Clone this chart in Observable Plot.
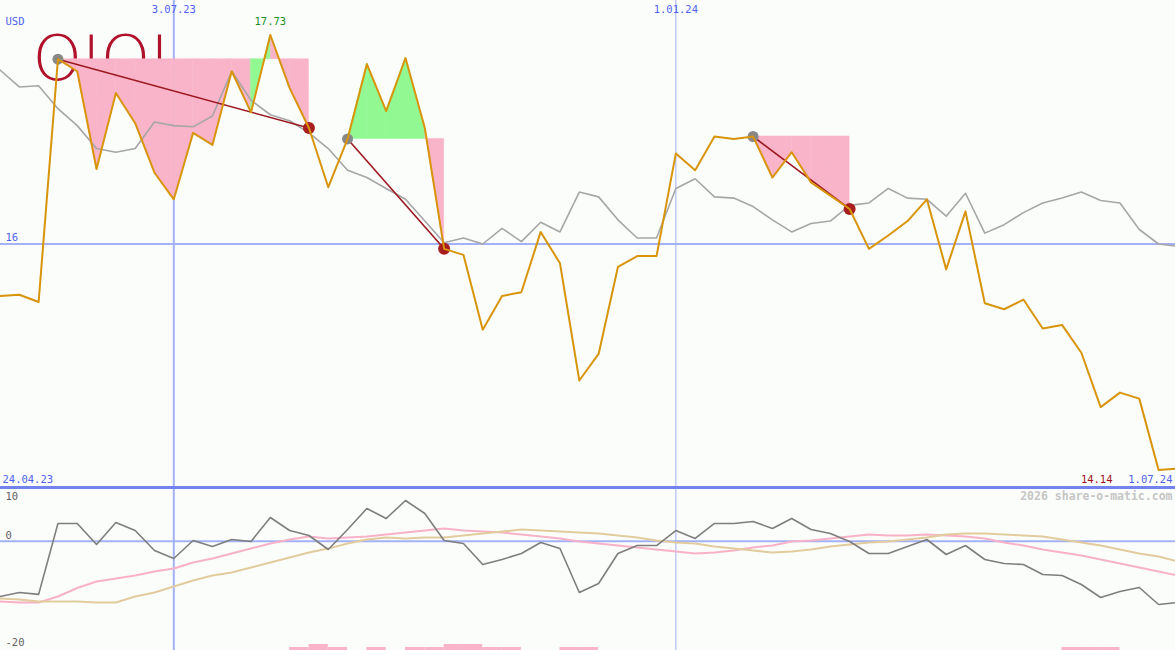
<!DOCTYPE html>
<html><head><meta charset="utf-8">
<script src="https://cdn.jsdelivr.net/npm/d3@7"></script>
<script src="https://cdn.jsdelivr.net/npm/@observablehq/plot@0.6"></script>
<style>
html,body{margin:0;padding:0;background:#fbfdfb;}
#chart{position:relative;width:1175px;height:650px;overflow:hidden;background:#fbfdfb;}
#chart svg{display:block;}
#sep{height:3px;background:#7282ee;}
#vol{position:absolute;left:0;bottom:0;pointer-events:none;}
</style></head><body><div id="chart"></div>
<script>
// ---- data (weekly, starting 24.04.23) ----
const startDate = [2023, 3, 24];
const price = [15.57,15.57,15.58,15.52,17.53,17.43,16.62,17.25,17.00,16.59,
  16.37,16.92,16.82,17.43,17.09,17.73,17.29,16.96,16.47,16.87,
  17.49,17.10,17.54,16.96,15.96,15.91,15.29,15.57,15.60,16.10,
  15.84,14.87,15.09,15.81,15.90,15.90,16.75,16.61,16.89,16.87,
  16.89,16.55,16.76,16.51,16.40,16.29,15.96,16.07,16.19,16.37,
  15.79,16.27,15.51,15.46,15.54,15.30,15.33,15.10,14.65,14.77,
  14.72,14.13,14.14];
const benchmark = [17.47,17.44,17.30,17.31,17.12,16.98,16.79,16.76,16.79,17.01,
  16.98,16.97,17.06,17.43,17.19,17.07,17.02,16.92,16.79,16.61,
  16.55,16.46,16.37,16.19,16.01,16.05,16.00,16.13,16.02,16.18,
  16.10,16.43,16.39,16.20,16.05,16.05,16.46,16.54,16.39,16.38,
  16.31,16.20,16.10,16.17,16.19,16.32,16.34,16.46,16.38,16.37,
  16.23,16.42,16.09,16.16,16.26,16.34,16.38,16.43,16.36,16.34,
  16.12,16.00,15.98];
const momentum = [-10.4,-10.4,-9.64,-10.0,3.33,3.33,-0.62,3.52,2.01,-1.75,
  -3.25,0.13,-1.0,0.32,-0.06,4.45,2.01,1.07,-1.56,2.20,
  6.15,4.27,7.65,5.21,0.13,-0.43,-4.38,-3.44,-2.31,-0.24,
  -1.37,-9.64,-7.95,-2.31,-0.81,-0.81,2.01,0.51,3.33,3.33,
  3.70,2.39,4.27,2.20,1.45,-0.06,-2.31,-2.31,-1.0,0.32,
  -2.50,-0.81,-3.44,-4.19,-4.38,-6.26,-6.45,-8.14,-10.58,-9.45,
  -8.70,-11.90,-11.52];
const signalPink = [-11.15,-11.33,-11.52,-11.52,-10.4,-8.8,-7.58,-7.01,-6.45,-5.70,
  -5.14,-4.01,-3.25,-2.31,-1.37,-0.43,0.32,0.88,0.51,0.69,
  0.88,1.26,1.63,2.01,2.39,2.01,1.82,1.63,1.26,0.88,
  0.51,-0.06,-0.43,-0.81,-1.18,-1.56,-1.94,-2.31,-2.12,-1.75,
  -1.18,-0.81,-0.06,0.13,0.51,0.88,1.26,1.07,1.07,1.26,
  1.07,0.88,0.51,-0.24,-0.81,-1.56,-2.12,-2.69,-3.44,-4.19,
  -4.95,-5.70,-6.45];
const signalTan = [-10.58,-10.77,-10.96,-11.33,-11.33,-11.33,-11.52,-11.52,-10.4,-9.64,
  -8.52,-7.39,-6.45,-5.89,-4.95,-4.01,-3.08,-2.14,-1.39,-0.43,
  0.32,0.69,0.51,0.69,0.69,1.07,1.45,1.82,2.20,2.01,
  1.82,1.63,1.45,1.07,0.69,0.13,-0.24,-0.43,-0.99,-1.37,
  -1.75,-2.12,-1.94,-1.56,-0.99,-0.62,-0.24,-0.06,0.32,0.69,
  1.26,1.45,1.45,1.26,1.07,0.88,0.32,-0.24,-0.81,-1.56,
  -2.31,-2.88,-3.82];
const volume = [0,0,0,0,0,0,0,0,0,0,
  0,0,0,0,0,0,1,2,1,0,
  1,0,1,1,2,2,1,1,0,0,
  1,1,0,0,0,0,0,0,0,0,
  0,0,0,0,0,0,0,0,0,0,
  0,0,0,0,0,0,1,1,1,0,
  0,0,0];
const trades = [{entry:4, exit:17}, {entry:19, exit:24}, {entry:40, exit:45}];
const xTickDates = ["2023-07-03", "2024-01-01"];
const mainTicks = [16];
const lowerTicks = [10, 0, -20];
const currency = "USD";
const watermark = "2026 share-o-matic.com";
const logoText = "OIOI";

// ---- derived ----
const DAY = 864e5;
const t0 = Date.UTC(...startDate);
const dates = price.map((_, i) => new Date(t0 + i * 7 * DAY));
const xTicks = xTickDates.map(s => new Date(s + "T00:00:00Z"));
const fmt = d3.utcFormat("%-d.%m.%y");
const rows = dates.map((date, i) => ({date, price: price[i], bench: benchmark[i],
  mom: momentum[i], pink: signalPink[i], tan: signalTan[i], vol: volume[i], next: dates[i + 1]}));
const last = price.length - 1;
const maxIdx = d3.maxIndex(price);

const areaRows = [];
trades.forEach((t, ti) => {
  const base = price[t.entry];
  for (let i = t.entry; i < t.exit; i++) {
    const up = price[i + 1] >= base;
    for (const j of [i, i + 1]) areaRows.push({seg: ti + "-" + i, date: dates[j], base, value: price[j], up});
  }
});
const tradeRows = trades.map(t => ({x1: dates[t.entry], y1: price[t.entry], x2: dates[t.exit], y2: price[t.exit]}));

const GRID = "#a3b1f6", BLUE = "#5062f0", MONO = "DejaVu Sans Mono";
const PINK = "#f9b4c9", GREEN = "#92f992";
const X = {type: "utc", domain: [dates[0], dates[last]], range: [-19.8, 1177.4], axis: null};
const T = {fontSize: 10.5, fontFamily: MONO, lineAnchor: "middle"};

const main = Plot.plot({
  width: 1175, height: 486, margin: 0,
  style: {background: "transparent", overflow: "hidden", fontFamily: MONO},
  x: X,
  y: {domain: [14, 18], range: [485.1, 1.9], axis: null},
  marks: [
    Plot.text([logoText], {frameAnchor: "top-left", dx: 32, dy: 35, lineAnchor: "top", textAnchor: "start",
      fontSize: 63, fontWeight: 200, fontFamily: "DejaVu Sans", fill: "#b0122c"}),
    Plot.ruleX([xTicks[0]], {x: d => d, stroke: GRID, strokeWidth: 2}),
    Plot.ruleX([xTicks[1]], {x: d => d, stroke: GRID, strokeWidth: 1}),
    Plot.ruleY(mainTicks, {y: d => d, stroke: GRID, strokeWidth: 2}),
    Plot.areaY(areaRows.filter(d => !d.up), {x: "date", y1: "base", y2: "value", z: "seg", fill: PINK, stroke: PINK, strokeWidth: 0.5}),
    Plot.areaY(areaRows.filter(d => d.up), {x: "date", y1: "base", y2: "value", z: "seg", fill: GREEN, stroke: GREEN, strokeWidth: 0.5}),
    Plot.line(rows, {x: "date", y: "bench", stroke: "#a6a6a6", strokeWidth: 1.6}),
    Plot.link(tradeRows, {x1: "x1", y1: "y1", x2: "x2", y2: "y2", stroke: "#9c1820", strokeWidth: 1.6}),
    Plot.dot(tradeRows, {x: "x1", y: "y1", r: 5.5, fill: "#888888"}),
    Plot.dot(tradeRows, {x: "x2", y: "y2", r: 6, fill: "#a81e1e"}),
    Plot.line(rows, {x: "date", y: "price", stroke: "#d8940a", strokeWidth: 2}),
    Plot.text([currency], {...T, frameAnchor: "top-left", dx: 5, dy: 21, textAnchor: "start", fill: BLUE}),
    Plot.text(xTicks, {...T, x: d => d, text: d => fmt(d), frameAnchor: "top", dy: 9, fill: BLUE}),
    Plot.text(mainTicks, {...T, y: d => d, text: d => String(d), frameAnchor: "left", dx: 5, dy: -6, textAnchor: "start", fill: BLUE}),
    Plot.text([maxIdx], {...T, x: i => dates[i], y: i => price[i], text: i => price[i].toFixed(2), dy: -13.5, fill: "#229022"}),
    Plot.text([dates[0]], {...T, text: d => fmt(d), frameAnchor: "bottom-left", dx: 2, dy: -7, textAnchor: "start", fill: BLUE}),
    Plot.text([price[last]], {...T, text: d => d.toFixed(2), frameAnchor: "bottom-right", dx: -63, dy: -7, textAnchor: "end", fill: "#a01020"}),
    Plot.text([dates[last]], {...T, text: d => fmt(d), frameAnchor: "bottom-right", dx: -3, dy: -7, textAnchor: "end", fill: BLUE})
  ]
});

const lower = Plot.plot({
  width: 1175, height: 161, margin: 0,
  style: {background: "transparent", overflow: "hidden", fontFamily: MONO},
  x: X,
  y: {domain: [-20, 10], range: [158.1, -1.5], axis: null},
  marks: [
    Plot.ruleX([xTicks[0]], {x: d => d, stroke: GRID, strokeWidth: 2}),
    Plot.ruleX([xTicks[1]], {x: d => d, stroke: GRID, strokeWidth: 1}),
    Plot.ruleY([0], {stroke: GRID, strokeWidth: 2}),
    Plot.line(rows, {x: "date", y: "pink", stroke: "#f8b2c8", strokeWidth: 2}),
    Plot.line(rows, {x: "date", y: "tan", stroke: "#e2cc9e", strokeWidth: 2}),
    Plot.line(rows, {x: "date", y: "mom", stroke: "#7e7e7e", strokeWidth: 1.6}),
    Plot.text(lowerTicks.filter(d => d === 10), {...T, y: d => d, text: String, frameAnchor: "left", dx: 5, dy: 8.5, textAnchor: "start", fill: "#606060"}),
    Plot.text(lowerTicks.filter(d => d === 0), {...T, y: d => d, text: String, frameAnchor: "left", dx: 5, dy: -5.7, textAnchor: "start", fill: "#606060"}),
    Plot.text(lowerTicks.filter(d => d === -20), {...T, y: d => d, text: String, frameAnchor: "left", dx: 5, dy: -5, textAnchor: "start", fill: "#606060"}),
    Plot.text([watermark], {...T, frameAnchor: "top-right", dx: -3, dy: 7, textAnchor: "end", fill: "#c6c6c6", fontSize: 11.5, fontWeight: "bold"})
  ]
});

const vol = Plot.plot({
  width: 1175, height: 9, margin: 0,
  style: {background: "transparent", overflow: "hidden"},
  x: X,
  y: {domain: [0, 3], range: [9, 0], axis: null},
  marks: [
    Plot.rectY(rows.filter(d => d.vol > 0), {x1: "date", x2: "next", y: "vol", fill: "#f9b4c9"})
  ]
});

const root = document.getElementById("chart");
root.appendChild(main);
const sep = document.createElement("div"); sep.id = "sep"; root.appendChild(sep);
root.appendChild(lower);
vol.id = "vol";
root.appendChild(vol);
</script></body></html>
